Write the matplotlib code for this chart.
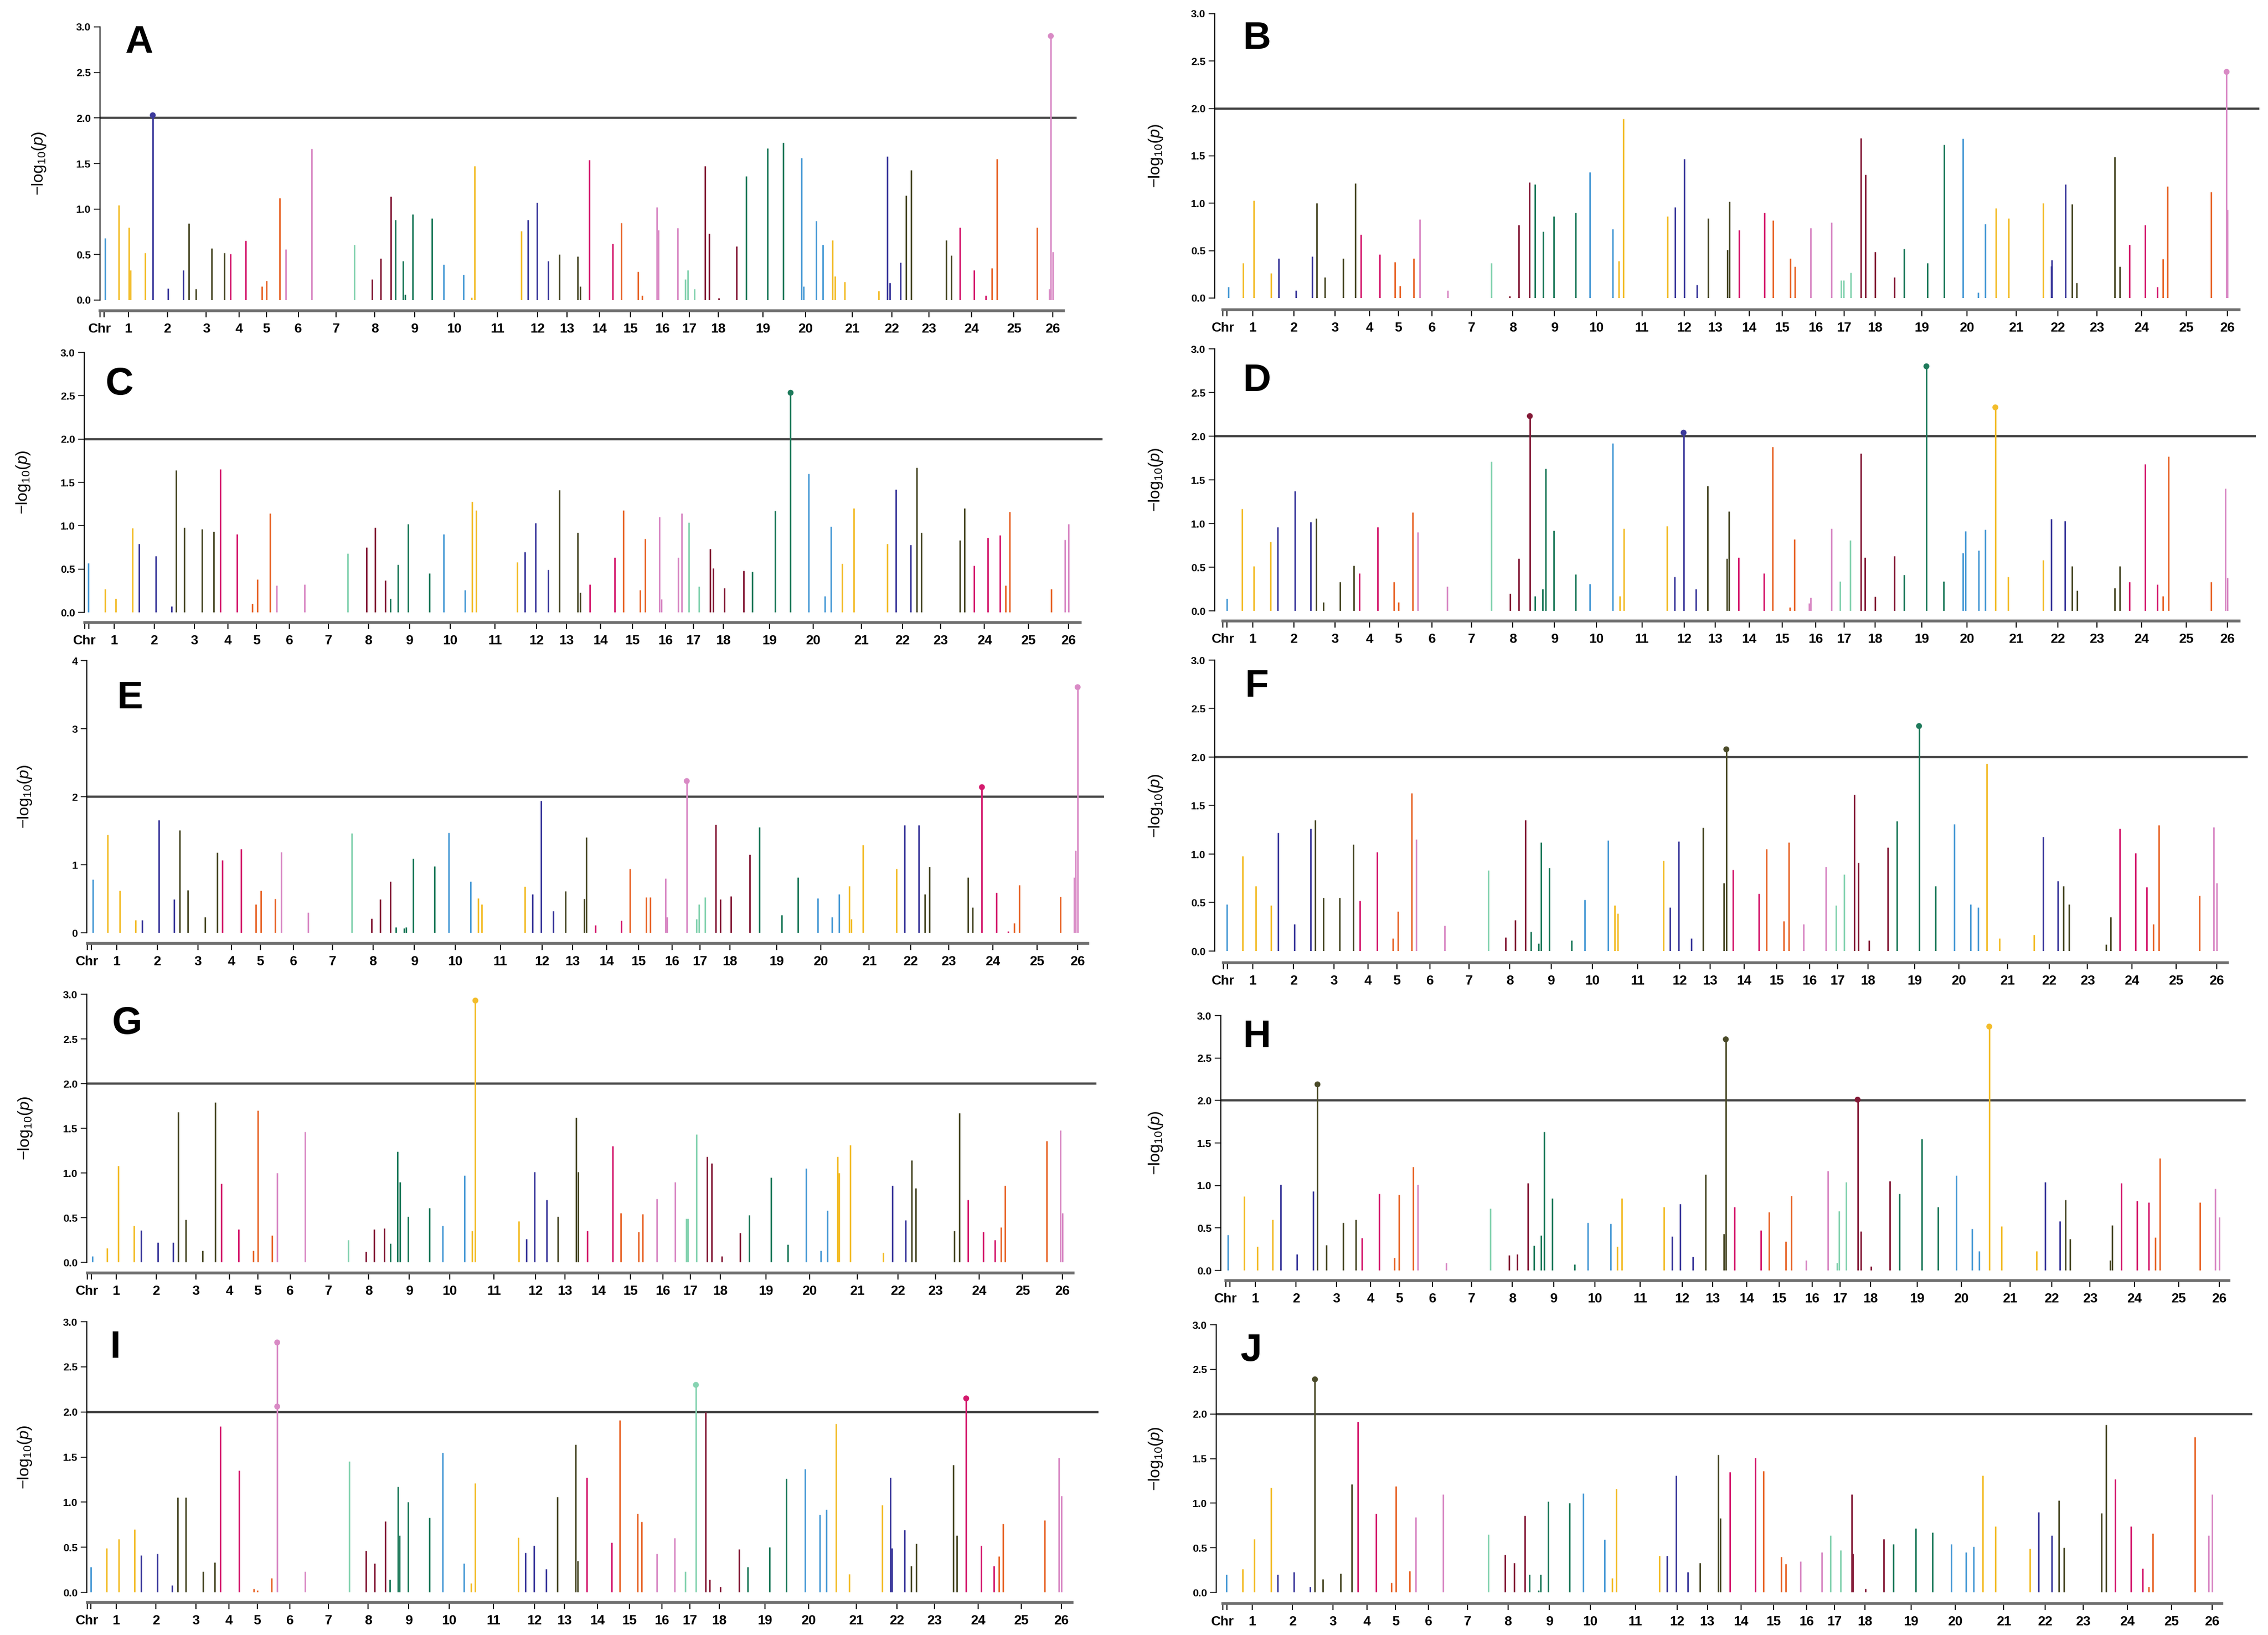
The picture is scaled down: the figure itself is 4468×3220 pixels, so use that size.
import numpy as np
import matplotlib
matplotlib.use('Agg')
import matplotlib.pyplot as plt

plt.rcParams['font.family'] = ['Liberation Sans', 'DejaVu Sans']
plt.rcParams['mathtext.fontset'] = 'custom'
plt.rcParams['mathtext.rm'] = 'Liberation Sans'
plt.rcParams['mathtext.it'] = 'Liberation Sans:italic'

# chromosome axis: genome position of each label (Chr, 1..26)
chrom_labels = ['Chr'] + [str(i) for i in range(1, 27)]
label_u = [0, 40, 95, 150, 196, 235, 280, 333, 388, 444, 500, 561, 618, 659,
           705, 749, 794, 832, 873, 936, 996, 1062, 1118, 1170, 1230, 1290, 1345]
# upper end of each chromosome (in label units), used to pick the colour
chrom_upper = [0.4, 1.55, 2.51, 3.65, 4.7, 5.5, 7.0, 7.75, 8.47, 9.7, 10.375, 11.66,
               12.6, 13.6, 14.67, 15.7, 16.7, 17.4, 18.6, 19.8, 20.5, 21.75, 22.3,
               23.68, 24.42, 25.85]
chrom_colors = ['#4a9bd6', '#f3bd2b', '#3c3a9c', '#4a4a28', '#d4196d',
                '#e8672b', '#d98ac5', '#86d3b1', '#841a37', '#1e7a5b']
threshold = 2.0

# (position in chromosome-label units, -log10 p)
A_hits = [(0.18, 0.68), (0.67, 1.04), (1.02, 0.80), (1.06, 0.33), (1.44, 0.52), (1.63, 2.03),
          (2.02, 0.13), (2.41, 0.33), (2.55, 0.84), (2.74, 0.12), (3.17, 0.57), (3.56, 0.52),
          (3.74, 0.51), (4.25, 0.65), (4.83, 0.15), (5.01, 0.21), (5.41, 1.12), (5.61, 0.56),
          (6.36, 1.66), (7.48, 0.61), (7.93, 0.23), (8.15, 0.46), (8.40, 1.14), (8.52, 0.88),
          (8.71, 0.43), (8.76, 0.06), (8.95, 0.94), (9.44, 0.90), (9.74, 0.39), (10.22, 0.28),
          (10.40, 0.03), (10.47, 1.47), (11.60, 0.76), (11.76, 0.88), (11.98, 1.07), (12.37, 0.43),
          (12.75, 0.50), (13.33, 0.48), (13.41, 0.15), (13.69, 1.54), (14.43, 0.62), (14.70, 0.85),
          (15.23, 0.31), (15.37, 0.05), (15.82, 1.02), (15.88, 0.77), (16.56, 0.79), (16.84, 0.23),
          (16.94, 0.33), (17.18, 0.12), (17.55, 1.47), (17.68, 0.73), (18.01, 0.02), (18.41, 0.59),
          (18.62, 1.36), (19.11, 1.67), (19.48, 1.73), (19.90, 1.56), (19.95, 0.15), (20.23, 0.87),
          (20.37, 0.61), (20.58, 0.66), (20.63, 0.26), (20.84, 0.20), (21.67, 0.10), (21.88, 1.58),
          (21.95, 0.19), (22.23, 0.41), (22.39, 1.15), (22.52, 1.43), (23.41, 0.66), (23.53, 0.49),
          (23.73, 0.80), (24.07, 0.33), (24.34, 0.05), (24.48, 0.35), (24.60, 1.55), (25.59, 0.80),
          (25.91, 0.12), (25.95, 2.90), (26.17, 0.53), (26.29, 0.23)]

B_hits = [(0.18, 0.12), (0.68, 0.37), (1.03, 1.03), (1.45, 0.26), (1.63, 0.42), (2.05, 0.08),
          (2.44, 0.44), (2.56, 1.00), (2.75, 0.22), (3.24, 0.42), (3.59, 1.21), (3.76, 0.67),
          (4.35, 0.46), (4.88, 0.38), (5.04, 0.13), (5.46, 0.42), (5.64, 0.83), (6.40, 0.08),
          (7.48, 0.37), (7.92, 0.02), (8.15, 0.77), (8.40, 1.22), (8.53, 1.20), (8.73, 0.70),
          (8.98, 0.86), (9.50, 0.90), (9.85, 1.33), (10.36, 0.73), (10.49, 0.39), (10.59, 1.89),
          (11.60, 0.86), (11.78, 0.96), (12.00, 1.47), (12.40, 0.14), (12.78, 0.84), (13.36, 0.51),
          (13.42, 1.02), (13.70, 0.72), (14.46, 0.90), (14.72, 0.82), (15.24, 0.42), (15.38, 0.33),
          (15.84, 0.74), (16.55, 0.80), (16.88, 0.19), (16.98, 0.19), (17.21, 0.27), (17.54, 1.69),
          (17.69, 1.30), (18.01, 0.49), (18.42, 0.22), (18.62, 0.52), (19.12, 0.37), (19.50, 1.62),
          (19.91, 1.68), (20.23, 0.06), (20.38, 0.78), (20.59, 0.95), (20.85, 0.84), (21.65, 1.00),
          (21.84, 0.34), (21.86, 0.40), (22.19, 1.20), (22.36, 0.99), (22.48, 0.16), (23.40, 1.49),
          (23.51, 0.33), (23.73, 0.56), (24.08, 0.77), (24.35, 0.12), (24.48, 0.41), (24.58, 1.18),
          (25.60, 1.12), (25.97, 2.39), (26.18, 0.93), (26.30, 0.71)]

C_hits = [(0.13, 0.57), (0.69, 0.27), (1.04, 0.16), (1.46, 0.97), (1.63, 0.79), (2.04, 0.65),
          (2.43, 0.07), (2.55, 1.64), (2.75, 0.98), (3.23, 0.96), (3.57, 0.93), (3.77, 1.65),
          (4.32, 0.90), (4.85, 0.10), (5.02, 0.38), (5.41, 1.14), (5.61, 0.31), (6.39, 0.32),
          (7.48, 0.68), (7.95, 0.75), (8.16, 0.98), (8.41, 0.37), (8.53, 0.16), (8.72, 0.55),
          (8.97, 1.02), (9.49, 0.45), (9.84, 0.90), (10.33, 0.26), (10.48, 1.28), (10.58, 1.18),
          (11.53, 0.58), (11.72, 0.70), (11.97, 1.03), (12.38, 0.49), (12.76, 1.41), (13.32, 0.92),
          (13.40, 0.23), (13.68, 0.32), (14.44, 0.63), (14.71, 1.18), (15.23, 0.26), (15.38, 0.85),
          (15.81, 1.10), (15.87, 0.15), (16.45, 0.63), (16.58, 1.14), (16.84, 1.04), (17.19, 0.30),
          (17.56, 0.73), (17.67, 0.51), (18.02, 0.28), (18.44, 0.48), (18.63, 0.47), (19.13, 1.17),
          (19.48, 2.54), (19.90, 1.60), (20.24, 0.19), (20.37, 0.99), (20.60, 0.56), (20.84, 1.20),
          (21.63, 0.79), (21.84, 1.42), (22.21, 0.78), (22.38, 1.67), (22.49, 0.92), (23.44, 0.83),
          (23.55, 1.20), (23.76, 0.54), (24.08, 0.86), (24.35, 0.89), (24.48, 0.31), (24.58, 1.16),
          (25.57, 0.27), (25.91, 0.84), (26.16, 0.11), (26.29, 1.02)]

D_hits = [(0.14, 0.14), (0.64, 1.17), (1.03, 0.51), (1.43, 0.79), (1.60, 0.96), (2.02, 1.37),
          (2.41, 1.02), (2.54, 1.06), (2.72, 0.10), (3.15, 0.33), (3.55, 0.52), (3.71, 0.43),
          (4.29, 0.96), (4.84, 0.33), (5.00, 0.10), (5.42, 1.13), (5.58, 0.90), (6.38, 0.28),
          (7.48, 1.71), (7.94, 0.20), (8.15, 0.60), (8.41, 2.23), (8.54, 0.17), (8.72, 0.25),
          (8.79, 1.63), (8.98, 0.92), (9.51, 0.42), (9.85, 0.31), (10.36, 1.92), (10.51, 0.17),
          (10.60, 0.94), (11.59, 0.97), (11.77, 0.39), (11.98, 2.04), (12.38, 0.25), (12.76, 1.43),
          (13.34, 0.60), (13.40, 1.14), (13.68, 0.61), (14.44, 0.43), (14.70, 1.88), (15.22, 0.04),
          (15.36, 0.82), (15.80, 0.09), (15.84, 0.15), (16.55, 0.94), (16.85, 0.34), (17.19, 0.81),
          (17.54, 1.80), (17.67, 0.61), (18.01, 0.16), (18.41, 0.63), (18.62, 0.41), (19.10, 2.80),
          (19.48, 0.34), (19.92, 0.66), (19.97, 0.91), (20.24, 0.69), (20.38, 0.93), (20.58, 2.33),
          (20.84, 0.39), (21.65, 0.58), (21.84, 1.05), (22.18, 1.03), (22.36, 0.51), (22.50, 0.23),
          (23.40, 0.26), (23.51, 0.51), (23.73, 0.33), (24.08, 1.68), (24.35, 0.30), (24.48, 0.17),
          (24.60, 1.77), (25.60, 0.33), (25.95, 1.40), (26.18, 0.38), (26.28, 0.07)]

E_hits = [(0.19, 0.78), (0.69, 1.44), (1.07, 0.62), (1.46, 0.19), (1.63, 0.19), (2.04, 1.66),
          (2.42, 0.49), (2.56, 1.51), (2.75, 0.63), (3.21, 0.23), (3.58, 1.18), (3.73, 1.07),
          (4.33, 1.23), (4.84, 0.42), (5.01, 0.62), (5.44, 0.50), (5.63, 1.19), (6.37, 0.30),
          (7.48, 1.46), (7.96, 0.21), (8.17, 0.49), (8.42, 0.75), (8.56, 0.08), (8.75, 0.07),
          (8.80, 0.08), (8.98, 1.09), (9.49, 0.98), (9.84, 1.47), (10.34, 0.75), (10.51, 0.51),
          (10.59, 0.42), (11.58, 0.68), (11.77, 0.57), (11.97, 1.94), (12.37, 0.32), (12.76, 0.61),
          (13.34, 0.50), (13.40, 1.40), (13.68, 0.11), (14.46, 0.18), (14.72, 0.94), (15.23, 0.52),
          (15.35, 0.52), (15.81, 0.80), (15.85, 0.23), (16.53, 2.23), (16.88, 0.20), (16.96, 0.42),
          (17.17, 0.52), (17.52, 1.59), (17.68, 0.49), (18.02, 0.54), (18.42, 1.15), (18.63, 1.55),
          (19.12, 0.26), (19.49, 0.81), (19.93, 0.51), (20.23, 0.23), (20.38, 0.57), (20.59, 0.69),
          (20.63, 0.20), (20.87, 1.29), (21.66, 0.94), (21.86, 1.58), (22.21, 1.58), (22.37, 0.57),
          (22.50, 0.97), (23.43, 0.81), (23.54, 0.37), (23.75, 2.14), (24.08, 0.59), (24.34, 0.02),
          (24.48, 0.14), (24.60, 0.70), (25.57, 0.53), (25.91, 0.81), (25.95, 1.21), (26.16, 3.61),
          (26.27, 0.64)]

F_hits = [(0.12, 0.48), (0.66, 0.98), (1.07, 0.67), (1.45, 0.47), (1.63, 1.22), (2.03, 0.28),
          (2.43, 1.26), (2.54, 1.35), (2.74, 0.55), (3.16, 0.55), (3.57, 1.10), (3.76, 0.52),
          (4.32, 1.02), (4.86, 0.13), (5.04, 0.41), (5.44, 1.63), (5.58, 1.15), (6.37, 0.26),
          (7.47, 0.83), (7.90, 0.14), (8.13, 0.32), (8.38, 1.35), (8.51, 0.20), (8.69, 0.08),
          (8.75, 1.12), (8.95, 0.86), (9.49, 0.11), (9.81, 0.53), (10.34, 1.14), (10.49, 0.47),
          (10.56, 0.39), (11.61, 0.93), (11.77, 0.45), (11.98, 1.13), (12.39, 0.13), (12.77, 1.27),
          (13.41, 0.70), (13.48, 2.08), (13.68, 0.84), (14.45, 0.59), (14.69, 1.05), (15.22, 0.31),
          (15.37, 1.12), (15.82, 0.28), (16.58, 0.87), (16.93, 0.47), (17.21, 0.79), (17.55, 1.61),
          (17.68, 0.91), (18.02, 0.11), (18.42, 1.07), (18.62, 1.34), (19.10, 2.32), (19.47, 0.67),
          (19.89, 1.31), (20.24, 0.48), (20.39, 0.45), (20.57, 1.93), (20.83, 0.13), (21.64, 0.17),
          (21.86, 1.18), (22.23, 0.72), (22.38, 0.67), (22.52, 0.48), (23.42, 0.07), (23.52, 0.35),
          (23.73, 1.26), (24.08, 1.01), (24.34, 0.66), (24.48, 0.28), (24.61, 1.30), (25.58, 0.57),
          (25.92, 1.28), (26.17, 0.70), (26.27, 0.46)]

G_hits = [(0.18, 0.07), (0.68, 0.16), (1.05, 1.08), (1.44, 0.41), (1.62, 0.36), (2.04, 0.22),
          (2.42, 0.22), (2.55, 1.68), (2.75, 0.48), (3.20, 0.13), (3.57, 1.79), (3.76, 0.88),
          (4.33, 0.37), (4.85, 0.13), (5.00, 1.70), (5.44, 0.30), (5.60, 1.00), (6.38, 1.46),
          (7.49, 0.25), (7.93, 0.12), (8.14, 0.37), (8.39, 0.38), (8.54, 0.21), (8.71, 1.24),
          (8.77, 0.90), (8.98, 0.51), (9.50, 0.61), (9.82, 0.41), (10.33, 0.97), (10.51, 0.35),
          (10.57, 2.93), (11.60, 0.46), (11.79, 0.26), (11.98, 1.01), (12.39, 0.70), (12.76, 0.51),
          (13.33, 1.62), (13.39, 1.01), (13.67, 0.35), (14.45, 1.30), (14.70, 0.55), (15.25, 0.34),
          (15.38, 0.54), (15.82, 0.71), (16.45, 0.90), (16.84, 0.49), (16.90, 0.49), (17.20, 1.43),
          (17.56, 1.18), (17.71, 1.11), (18.03, 0.07), (18.43, 0.33), (18.63, 0.53), (19.12, 0.95),
          (19.50, 0.20), (19.92, 1.05), (20.24, 0.13), (20.38, 0.58), (20.59, 1.18), (20.62, 1.00),
          (20.85, 1.31), (21.64, 0.11), (21.86, 0.86), (22.21, 0.47), (22.37, 1.14), (22.48, 0.83),
          (23.43, 0.35), (23.55, 1.67), (23.75, 0.70), (24.10, 0.34), (24.37, 0.25), (24.50, 0.39),
          (24.60, 0.86), (25.60, 1.36), (25.95, 1.48), (26.16, 0.55), (26.29, 0.53)]

H_hits = [(0.08, 0.42), (0.63, 0.87), (1.05, 0.28), (1.43, 0.60), (1.62, 1.01), (2.03, 0.19),
          (2.42, 0.93), (2.53, 2.19), (2.75, 0.30), (3.20, 0.56), (3.56, 0.60), (3.74, 0.38),
          (4.30, 0.90), (4.82, 0.15), (4.98, 0.89), (5.41, 1.22), (5.55, 1.01), (6.35, 0.09),
          (7.46, 0.73), (7.92, 0.18), (8.12, 0.19), (8.38, 1.03), (8.52, 0.29), (8.70, 0.41),
          (8.77, 1.63), (8.97, 0.85), (9.50, 0.07), (9.82, 0.56), (10.34, 0.55), (10.49, 0.28),
          (10.59, 0.85), (11.56, 0.75), (11.76, 0.40), (11.95, 0.78), (12.35, 0.16), (12.77, 1.13),
          (13.33, 0.43), (13.39, 2.72), (13.65, 0.75), (14.44, 0.47), (14.69, 0.69), (15.20, 0.34),
          (15.37, 0.88), (15.82, 0.12), (16.55, 1.17), (16.88, 0.09), (16.95, 0.70), (17.19, 1.04),
          (17.57, 2.01), (17.68, 0.46), (18.01, 0.05), (18.41, 1.05), (18.62, 0.90), (19.10, 1.55),
          (19.47, 0.75), (19.88, 1.12), (20.22, 0.49), (20.36, 0.23), (20.57, 2.87), (20.82, 0.52),
          (21.63, 0.23), (21.85, 1.04), (22.22, 0.58), (22.36, 0.83), (22.48, 0.37), (23.45, 0.12),
          (23.50, 0.53), (23.71, 1.03), (24.06, 0.82), (24.33, 0.80), (24.47, 0.39), (24.58, 1.32),
          (25.53, 0.80), (25.90, 0.96), (26.13, 0.63), (26.23, 0.38)]

I_hits = [(0.13, 0.28), (0.68, 0.49), (1.07, 0.59), (1.46, 0.70), (1.63, 0.41), (2.04, 0.43),
          (2.41, 0.08), (2.54, 1.05), (2.75, 1.05), (3.22, 0.23), (3.57, 0.33), (3.74, 1.84),
          (4.35, 1.35), (4.88, 0.04), (5.00, 0.02), (5.43, 0.16), (5.61, 2.77), (5.61, 2.06),
          (6.40, 0.23), (7.53, 1.45), (7.95, 0.46), (8.16, 0.32), (8.42, 0.79), (8.54, 0.14),
          (8.74, 1.17), (8.77, 0.63), (8.98, 1.00), (9.51, 0.83), (9.84, 1.55), (10.33, 0.32),
          (10.49, 0.10), (10.59, 1.21), (11.60, 0.61), (11.77, 0.44), (11.98, 0.52), (12.39, 0.26),
          (12.76, 1.06), (13.34, 1.64), (13.40, 0.35), (13.68, 1.27), (14.44, 0.55), (14.69, 1.91),
          (15.24, 0.87), (15.37, 0.78), (15.83, 0.43), (16.45, 0.60), (16.84, 0.23), (17.21, 2.30),
          (17.54, 2.00), (17.67, 0.14), (18.02, 0.06), (18.43, 0.48), (18.62, 0.28), (19.10, 0.50),
          (19.49, 1.26), (19.92, 1.37), (20.24, 0.86), (20.37, 0.92), (20.58, 1.87), (20.85, 0.20),
          (21.64, 0.97), (21.84, 1.27), (21.88, 0.49), (22.20, 0.69), (22.38, 0.29), (22.51, 0.54),
          (23.43, 1.41), (23.52, 0.63), (23.73, 2.15), (24.08, 0.52), (24.37, 0.29), (24.48, 0.40),
          (24.58, 0.76), (25.58, 0.80), (25.94, 1.49), (26.18, 0.18), (26.29, 1.07)]

J_hits = [(0.13, 0.20), (0.68, 0.26), (1.05, 0.60), (1.47, 1.17), (1.63, 0.20), (2.03, 0.23),
          (2.43, 0.06), (2.55, 2.39), (2.75, 0.15), (3.22, 0.21), (3.56, 1.21), (3.74, 1.91),
          (4.33, 0.88), (4.86, 0.11), (5.02, 1.19), (5.43, 0.24), (5.61, 0.84), (6.37, 1.10),
          (7.51, 0.65), (7.93, 0.42), (8.15, 0.33), (8.41, 0.86), (8.52, 0.20), (8.74, 0.02),
          (8.79, 0.20), (8.97, 1.02), (9.49, 1.00), (9.82, 1.11), (10.31, 0.59), (10.49, 0.16),
          (10.57, 1.16), (11.58, 0.41), (11.76, 0.41), (11.97, 1.31), (12.36, 0.23), (12.75, 0.33),
          (13.32, 1.54), (13.38, 0.83), (13.66, 1.35), (14.44, 1.51), (14.69, 1.36), (15.23, 0.40),
          (15.37, 0.32), (15.82, 0.35), (16.55, 0.45), (16.85, 0.64), (17.20, 0.47), (17.57, 1.10),
          (17.60, 0.43), (18.01, 0.04), (18.41, 0.60), (18.62, 0.54), (19.11, 0.72), (19.49, 0.67),
          (19.91, 0.54), (20.22, 0.45), (20.38, 0.51), (20.57, 1.31), (20.83, 0.74), (21.63, 0.49),
          (21.85, 0.90), (22.18, 0.64), (22.37, 1.03), (22.49, 0.50), (23.42, 0.89), (23.52, 1.88),
          (23.73, 1.27), (24.08, 0.74), (24.35, 0.27), (24.48, 0.06), (24.58, 0.66), (25.58, 1.74),
          (25.92, 0.64), (26.17, 0.38), (26.27, 1.10)]

# panel layout in output pixels (x of y-axis, x of label 1 and 26, right end, y of top / zero,
# y of chromosome axis, end of chromosome axis, x of y label, letter corner)
W, H = 4468, 3220
layout = {
    'A': dict(spine=197, L1=252.6, L26=2074, right=2121, ytop=53, y0=591, axis_y=612, axis_end=2095, lab_x=77, letter=(246, 49), ymax=3),
    'B': dict(spine=2393, L1=2468, L26=4388, right=4451, ytop=27, y0=587, axis_y=610, axis_end=4411, lab_x=2277, letter=(2449, 41), ymax=3),
    'C': dict(spine=166, L1=224.5, L26=2105, right=2172, ytop=694, y0=1206, axis_y=1226, axis_end=2128, lab_x=46, letter=(208, 722), ymax=3),
    'D': dict(spine=2393, L1=2468, L26=4388, right=4444, ytop=687, y0=1203, axis_y=1223, axis_end=4411, lab_x=2277, letter=(2449, 715), ymax=3),
    'E': dict(spine=171, L1=230, L26=2123, right=2175, ytop=1301, y0=1837, axis_y=1858, axis_end=2143, lab_x=49, letter=(231, 1340), ymax=4),
    'F': dict(spine=2393, L1=2468, L26=4367, right=4428, ytop=1300, y0=1873, axis_y=1896, axis_end=4388, lab_x=2277, letter=(2453, 1317), ymax=3),
    'G': dict(spine=171, L1=229, L26=2093, right=2160, ytop=1958, y0=2486, axis_y=2507, axis_end=2114, lab_x=50, letter=(221, 1981), ymax=3),
    'H': dict(spine=2405, L1=2473, L26=4372, right=4424, ytop=2000, y0=2502, axis_y=2522, axis_end=4391, lab_x=2277, letter=(2449, 2007), ymax=3),
    'I': dict(spine=171, L1=228.7, L26=2090.6, right=2164, ytop=2603, y0=3136, axis_y=3156, axis_end=2112, lab_x=49, letter=(217, 2619), ymax=3),
    'J': dict(spine=2396, L1=2466.6, L26=4357.5, right=4437, ytop=2609, y0=3136, axis_y=3158, axis_end=4377, lab_x=2277, letter=(2444, 2625), ymax=3),
}
panels = [('A', A_hits), ('B', B_hits), ('C', C_hits), ('D', D_hits), ('E', E_hits),
          ('F', F_hits), ('G', G_hits), ('H', H_hits), ('I', I_hits), ('J', J_hits)]

fig = plt.figure(figsize=(W / 100, H / 100), dpi=100)

for name, hits in panels:
    g = layout[name]
    px_per_u = (g['L26'] - g['L1']) / (label_u[26] - label_u[1])

    def to_u(px):
        return label_u[1] + (px - g['L1']) / px_per_u

    left = g['spine'] / W
    width = (g['right'] - g['spine']) / W
    ax = fig.add_axes([left, 1 - g['y0'] / H, width, (g['y0'] - g['ytop']) / H])
    ax.set_xlim(to_u(g['spine']), to_u(g['right']))
    ax.set_ylim(0, g['ymax'])

    pos, val = np.array(hits).T
    u = np.interp(pos, np.arange(27), label_u)
    chrom = np.searchsorted(chrom_upper, pos)
    cols = np.array([chrom_colors[k % 10] for k in chrom])

    ax.axhline(threshold, color='#474747', lw=3.2, zorder=1)
    ax.vlines(u, 0, val, colors=cols, lw=2.2, zorder=2)
    sig = val > threshold + 0.005
    ax.scatter(u[sig], val[sig], c=cols[sig], s=70, zorder=3, clip_on=False, linewidths=0)

    for s in ['top', 'right', 'bottom']:
        ax.spines[s].set_visible(False)
    ax.spines['left'].set_linewidth(1.6)
    ax.set_xticks([])
    if g['ymax'] == 4:
        yt = np.arange(0, 5)
        ax.set_yticks(yt)
        ax.set_yticklabels([str(v) for v in yt])
    else:
        yt = np.arange(0, 3.01, 0.5)
        ax.set_yticks(yt)
        ax.set_yticklabels(['%.1f' % v for v in yt])
    ax.tick_params(axis='y', length=9, width=1.6, color='#333333', labelsize=15, pad=4)
    for t in ax.get_yticklabels():
        t.set_fontweight('bold')

    # chromosome axis underneath
    cx = fig.add_axes([left, 1 - g['axis_y'] / H, width, 4 / H])
    cx.set_xlim(ax.get_xlim())
    cx.patch.set_visible(False)
    for s in ['top', 'right', 'left']:
        cx.spines[s].set_visible(False)
    cx.spines['bottom'].set_color('#6f6f6f')
    cx.spines['bottom'].set_linewidth(4)
    cx.spines['bottom'].set_bounds(0, to_u(g['axis_end']))
    cx.set_yticks([])
    cx.set_xticks([0, 5.5] + label_u[1:])
    cx.set_xticklabels(['Chr', ''] + chrom_labels[1:])
    cx.tick_params(axis='x', direction='out', length=9, width=1.6, color='black',
                   labelsize=19, pad=8)
    for t in cx.get_xticklabels():
        t.set_fontweight('bold')

    fig.text(g['lab_x'] / W, 1 - (g['ytop'] + g['y0']) / 2 / H, r'$-\mathrm{log}_{10}(p)$',
             rotation=90, ha='center', va='center', fontsize=23)
    fig.text(g['letter'][0] / W, 1 - g['letter'][1] / H, name, ha='left', va='top',
             fontsize=55, fontweight='bold')

fig.savefig('out.png', dpi=100, facecolor='white')
